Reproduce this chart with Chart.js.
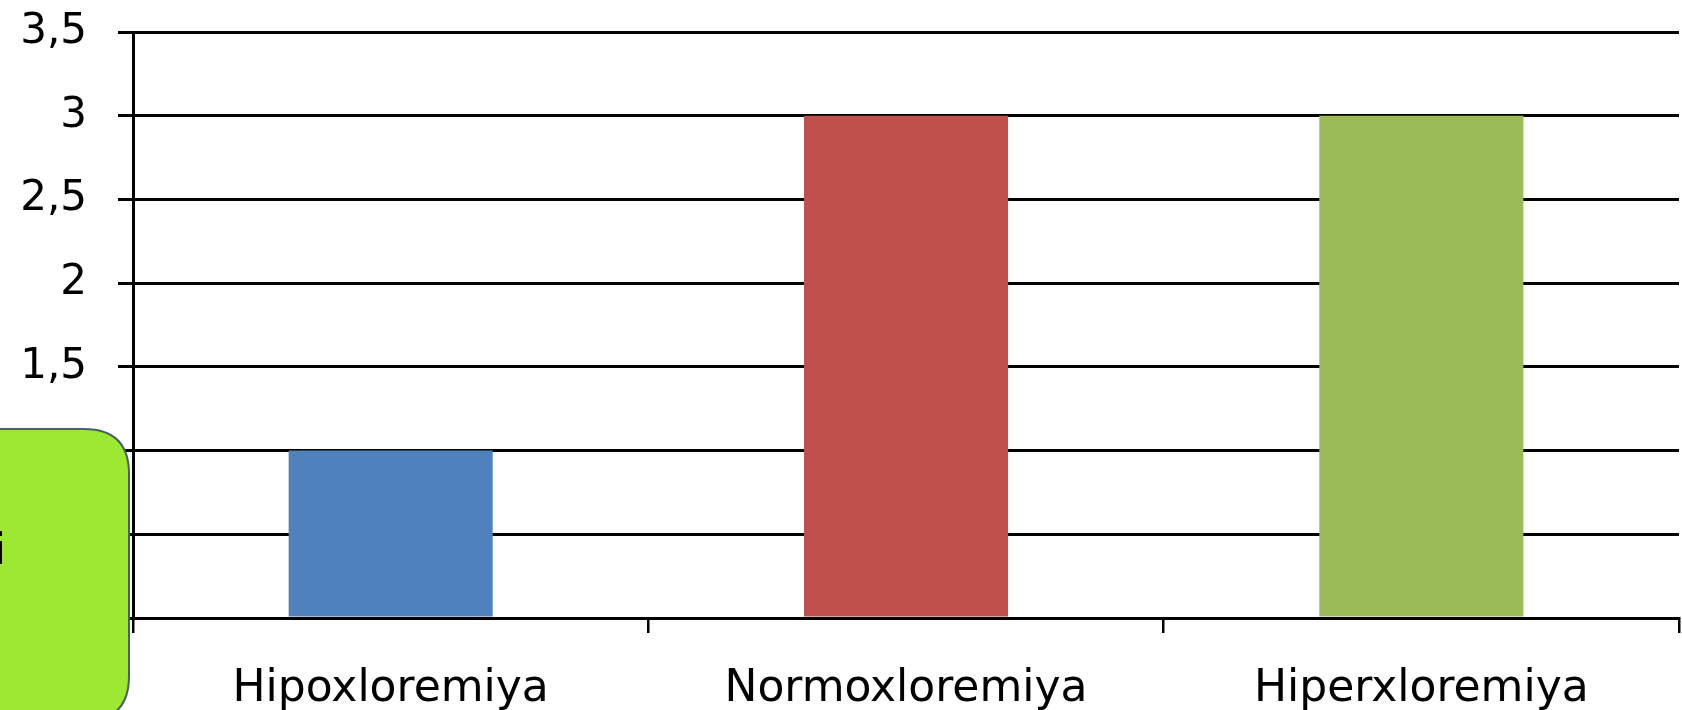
<!DOCTYPE html>
<html>
<head>
<meta charset="utf-8">
<script src="https://cdn.jsdelivr.net/npm/chart.js@4/dist/chart.umd.min.js"></script>
<style>
  html, body { margin: 0; padding: 0; background: #fff; overflow: hidden; }
  #wrap { width: 1682px; height: 710px; position: relative; }
</style>
</head>
<body>
<div id="wrap"><canvas id="chlor_chart"></canvas></div>
<script>
var categories = ["Hipoxloremiya", "Normoxloremiya", "Hiperxloremiya"];
var values = [1, 3, 3];
var barColors = ["#4f81bd", "#c0504d", "#9bbb59"];
var yTickLabels = ["0", "0,5", "1", "1,5", "2", "2,5", "3", "3,5"];
var boxText = "i";

var fontFamily = "'DejaVu Sans', Verdana, sans-serif";

// green rounded note box sitting over the lower left corner
var noteBox = {
  id: "noteBox",
  afterDraw: function(chart) {
    var ctx = chart.ctx;
    var x = -60, y = 429, w = 189, h = 292, r = 45;
    ctx.save();
    ctx.beginPath();
    ctx.moveTo(x + r, y);
    ctx.lineTo(x + w - r, y);
    ctx.quadraticCurveTo(x + w, y, x + w, y + r);
    ctx.lineTo(x + w, y + h - r);
    ctx.quadraticCurveTo(x + w, y + h, x + w - r, y + h);
    ctx.lineTo(x + r, y + h);
    ctx.quadraticCurveTo(x, y + h, x, y + h - r);
    ctx.lineTo(x, y + r);
    ctx.quadraticCurveTo(x, y, x + r, y);
    ctx.closePath();
    ctx.fillStyle = "#9de832";
    ctx.fill();
    ctx.lineWidth = 2;
    ctx.strokeStyle = "#4a5b7b";
    ctx.stroke();
    ctx.fillStyle = "#000";
    ctx.font = "42px " + fontFamily;
    ctx.textAlign = "right";
    ctx.textBaseline = "alphabetic";
    ctx.fillText(boxText, 6, 564);
    ctx.restore();
  }
};

var chart = new Chart("chlor_chart", {
  type: "bar",
  data: {
    labels: categories,
    datasets: [{
      data: values,
      backgroundColor: barColors,
      borderWidth: 0,
      categoryPercentage: 1,
      barPercentage: 0.396
    }]
  },
  options: {
    responsive: true,
    maintainAspectRatio: false,
    animation: false,
    layout: { padding: { top: 32, right: 3, left: 0, bottom: 0 } },
    plugins: {
      legend: { display: false },
      tooltip: { enabled: false }
    },
    scales: {
      x: {
        grid: {
          drawOnChartArea: false,
          drawTicks: true,
          tickLength: 15,
          color: "#000",
          lineWidth: 2.5,
          offset: true
        },
        border: { color: "#000", width: 3 },
        ticks: {
          color: "#000",
          padding: 30,
          maxRotation: 0,
          font: { family: fontFamily, size: 44 }
        },
        afterFit: function(s) {
          s.height = 92;
          s.paddingLeft = 0;
          s.paddingRight = 0;
        }
      },
      y: {
        min: 0,
        max: 3.5,
        grid: {
          color: "#000",
          lineWidth: 3,
          tickLength: 15,
          drawTicks: true
        },
        border: { color: "#000", width: 3 },
        ticks: {
          stepSize: 0.5,
          color: "#000",
          padding: 31,
          font: { family: fontFamily, size: 42 },
          callback: function(v, i) { return yTickLabels[i]; }
        },
        afterFit: function(s) {
          s.width = 133;
          s.paddingTop = 0;
          s.paddingBottom = 0;
        }
      }
    }
  },
  plugins: [noteBox]
});
</script>
</body>
</html>
